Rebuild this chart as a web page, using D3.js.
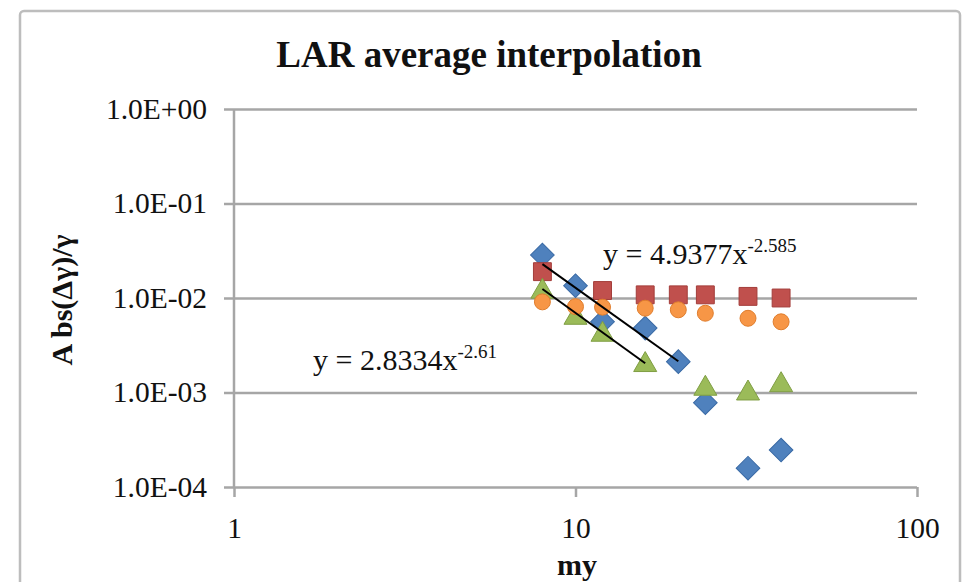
<!DOCTYPE html>
<html>
<head>
<meta charset="utf-8">
<script src="https://cdn.jsdelivr.net/npm/d3@7"></script>
<style>
  html, body { margin: 0; padding: 0; background: #fff; }
  svg { display: block; }
  text { font-family: "Liberation Serif", "Times New Roman", serif; fill: #111; }
</style>
</head>
<body>
<svg id="chart" width="967" height="582"></svg>
<script>
// ---- data ----
const xValues = [8, 10, 12, 16, 20, 24, 32, 40];
const blueValues   = [0.0285, 0.0135, 0.0056, 0.0048, 0.00212, 0.00078, 0.000158, 0.000246];
const redValues    = [0.0190, null, 0.0120, 0.0108, 0.0108, 0.0108, 0.0104, 0.0100];
const greenValues  = [0.0117, 0.0062, 0.0041, 0.00196, null, 0.00110, 0.00098, 0.00120];
const orangeValues = [0.0091, 0.0081, 0.0080, 0.0078, 0.0075, 0.0069, 0.0061, 0.0056];
const xTicks = [1, 10, 100];
const yTicks = [1e-4, 1e-3, 1e-2, 1e-1, 1];
const titleText = "LAR average interpolation";
const xTitle = "my";
const yTitle = "A bs(Δγ)/γ";
// trend lines (power fits shown on the chart)
const fitBlue = {a: 4.9377, b: -2.585, from: 8, to: 20, coef: "4.9377", exp: "-2.585"};
const fitGreen = {a: 2.8334, b: -2.61, from: 8, to: 16, coef: "2.8334", exp: "-2.61"};

const svg = d3.select("#chart");
const pLeft = 234, pRight = 917, pTop = 109, pBottom = 487;

// outer frame
svg.append("rect").attr("x", 20).attr("y", 11).attr("width", 940).attr("height", 600)
  .attr("rx", 4).attr("fill", "#fff").attr("stroke", "#bdbdbd").attr("stroke-width", 2.5);

const x = d3.scaleLog().domain([1, 100]).range([pLeft, pRight]);
const y = d3.scaleLog().domain([1e-4, 1]).range([pBottom, pTop]);

const gridColor = "#a6a6a6";
const fmt = v => {
  const e = Math.round(Math.log10(v));
  return "1.0E" + (e >= 0 ? "+" : "-") + String(Math.abs(e)).padStart(2, "0");
};

// y axis with gridlines
const yAxis = svg.append("g").attr("transform", `translate(${pLeft},0)`)
  .call(d3.axisLeft(y).tickValues(yTicks).tickFormat(fmt).tickSize(10).tickPadding(17));
yAxis.select(".domain").remove();
yAxis.selectAll(".tick line").attr("x1", pRight - pLeft).attr("stroke", gridColor).attr("stroke-width", 2.5);
yAxis.selectAll(".tick text").attr("font-size", 29.5).attr("font-family", "Liberation Serif").attr("fill", "#222");

// x axis
const xAxis = svg.append("g").attr("transform", `translate(0,${pBottom})`)
  .call(d3.axisBottom(x).tickValues(xTicks).tickFormat(d3.format("d")).tickSize(10).tickPadding(20));
xAxis.select(".domain").remove();
xAxis.selectAll(".tick line").attr("stroke", gridColor).attr("stroke-width", 2.5);
xAxis.selectAll(".tick text").attr("font-size", 29.5).attr("font-family", "Liberation Serif").attr("fill", "#222");

// vertical axis line
svg.append("line").attr("x1", x(1)).attr("x2", x(1)).attr("y1", y(1)).attr("y2", y(1e-4))
  .attr("stroke", gridColor).attr("stroke-width", 2.5);

// title
svg.append("text").attr("x", 489).attr("y", 67).attr("text-anchor", "middle")
  .attr("font-size", 37).attr("font-weight", "bold").text(titleText);
// axis titles
svg.append("text").attr("x", 577).attr("y", 575).attr("text-anchor", "middle")
  .attr("font-size", 30).attr("font-weight", "bold").text(xTitle);
svg.append("text").attr("transform", "translate(72,300) rotate(-90)").attr("text-anchor", "middle")
  .attr("font-size", 30).attr("font-weight", "bold").text(yTitle);

// series
const series = [
  {vals: blueValues,   type: d3.symbolSquare,   size: 280, rot: 45, fill: "#4f81bd", stroke: "#3a6aa5"},
  {vals: redValues,    type: d3.symbolSquare,   size: 320, rot: 0,  fill: "#c0504d", stroke: "#a33d3a"},
  {vals: greenValues,  type: d3.symbolTriangle, size: 230, rot: 0,  fill: "#9bbb59", stroke: "#7f9e43"},
  {vals: orangeValues, type: d3.symbolCircle,   size: 200, rot: 0,  fill: "#f79646", stroke: "#e07d2c"}
];
series.forEach(s => {
  const pts = xValues.map((xv, i) => ({x: xv, y: s.vals[i]})).filter(d => d.y != null);
  svg.append("g").selectAll("path").data(pts).join("path")
    .attr("d", d3.symbol().type(s.type).size(s.size))
    .attr("transform", d => `translate(${x(d.x)},${y(d.y)}) rotate(${s.rot})`)
    .attr("fill", s.fill).attr("stroke", s.stroke).attr("stroke-width", 1);
});

// trend lines
[fitBlue, fitGreen].forEach(f => {
  svg.append("line")
    .attr("x1", x(f.from)).attr("y1", y(f.a * Math.pow(f.from, f.b)))
    .attr("x2", x(f.to)).attr("y2", y(f.a * Math.pow(f.to, f.b)))
    .attr("stroke", "#000").attr("stroke-width", 2);
});

// equation labels
function eq(f, px, py) {
  const t = svg.append("text").attr("x", px).attr("y", py).attr("font-size", 30).attr("fill", "#222");
  t.append("tspan").text("y = " + f.coef + "x");
  t.append("tspan").attr("font-size", 19).attr("dy", -12).text(f.exp);
}
eq(fitBlue, 603, 264);
eq(fitGreen, 313, 370);
</script>
</body>
</html>
